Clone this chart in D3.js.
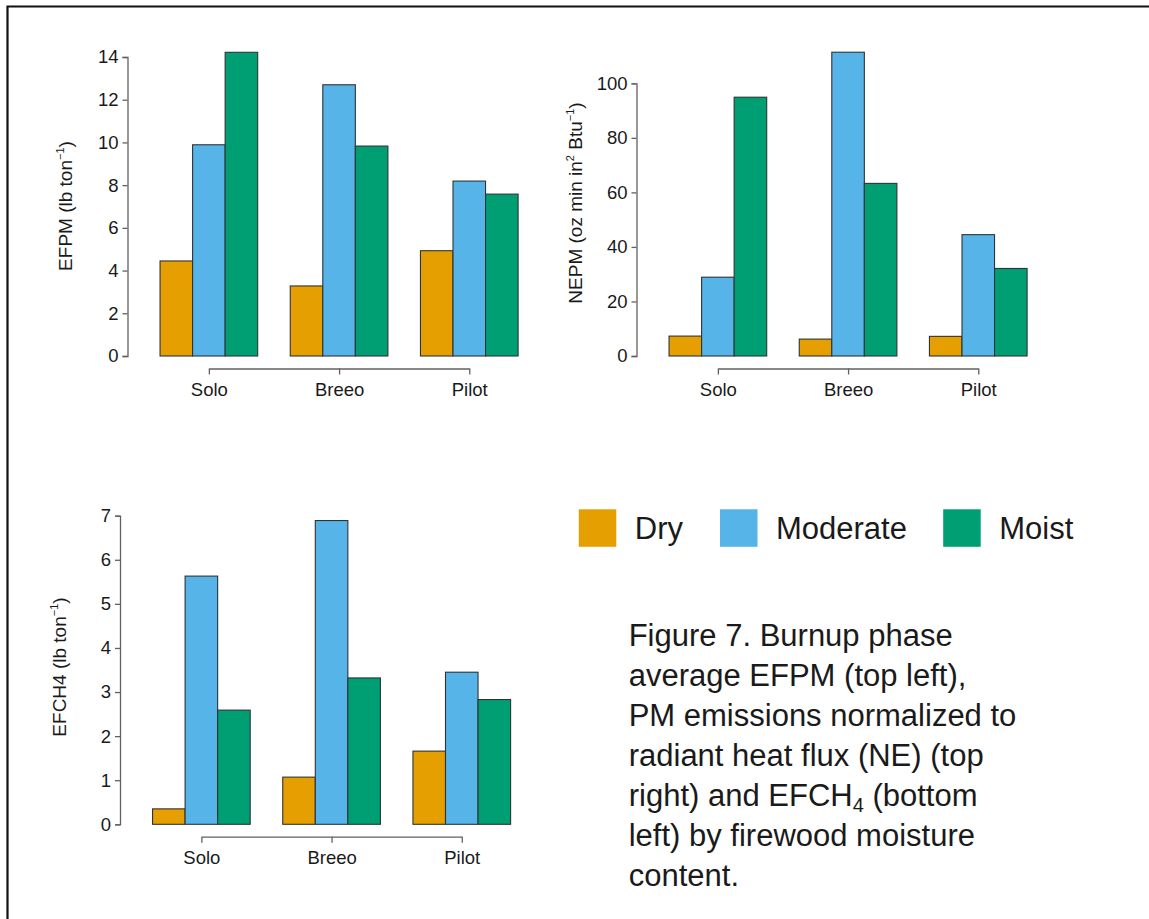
<!DOCTYPE html>
<html>
<head>
<meta charset="utf-8">
<script src="https://cdn.jsdelivr.net/npm/d3@7"></script>
<style>
  html, body { margin: 0; padding: 0; background: #fff; }
  svg { display: block; }
  text { font-family: "Liberation Sans", Arial, Helvetica, sans-serif; fill: #1a1a1a; }
</style>
</head>
<body>
<svg id="fig" width="1149" height="919"></svg>
<script>
// Stove models and firewood moisture classes
const stoves = ["Solo", "Breeo", "Pilot"];
const moisture = ["Dry", "Moderate", "Moist"];
const moistureColors = ["#E69F00", "#56B4E9", "#009E73"];

// Burnup-phase averages, one row per stove, columns Dry / Moderate / Moist
const efpm = [
  [4.45, 9.89, 14.22],
  [3.28, 12.70, 9.83],
  [4.93, 8.19, 7.58]
];
const nepm = [
  [7.3, 28.9, 94.9],
  [6.2, 111.4, 63.3],
  [7.2, 44.5, 32.1]
];
const efch4 = [
  [0.35, 5.63, 2.59],
  [1.07, 6.89, 3.32],
  [1.66, 3.45, 2.83]
];

// Y tick values for each panel
const efpmTicks = [0, 2, 4, 6, 8, 10, 12, 14];
const nepmTicks = [0, 20, 40, 60, 80, 100];
const efch4Ticks = [0, 1, 2, 3, 4, 5, 6, 7];

const captionLines = [
  [{t: "Figure 7. Burnup phase"}],
  [{t: "average EFPM (top left),"}],
  [{t: "PM emissions normalized to"}],
  [{t: "radiant heat flux (NE) (top"}],
  [{t: "right) and EFCH"}, {t: "4", sub: true}, {t: " (bottom"}],
  [{t: "left) by firewood moisture"}],
  [{t: "content."}]
];

const svg = d3.select("#fig");

// page frame (top and left edges visible)
svg.append("path")
  .attr("d", "M7.5,1000 V6.5 H1200")
  .attr("fill", "none").attr("stroke", "#111").attr("stroke-width", 2.2);

const axisColor = "#616161";
const slot = 32.55; // one bar width; groups of 3 bars separated by one empty slot
const font = '"Liberation Sans", Arial, sans-serif';

function panel(cfg) {
  const g = svg.append("g");
  // bar slots: axis at slot 0, group i occupies slots 1+4i .. 4+4i
  const x = d3.scaleLinear().domain([0, 12]).range([cfg.x0, cfg.x0 + 12 * slot]);
  const y = d3.scaleLinear().domain(cfg.yDomain).range(cfg.yRange);

  cfg.data.forEach((row, i) => {
    row.forEach((v, j) => {
      const s = 1 + 4 * i + j;
      g.append("rect")
        .attr("x", x(s))
        .attr("y", y(v))
        .attr("width", x(s + 1) - x(s))
        .attr("height", y(0) - y(v))
        .attr("fill", moistureColors[j])
        .attr("stroke", "#2e3436")
        .attr("stroke-width", 1.1);
    });
  });

  // y axis
  const ya = g.append("g")
    .attr("transform", `translate(${cfg.x0},0)`)
    .call(d3.axisLeft(y).tickValues(cfg.ticks).tickSize(5).tickSizeOuter(5).tickPadding(4).tickFormat(d3.format("d")));
  ya.selectAll("path,line").attr("stroke", axisColor).attr("stroke-width", 1.3);
  ya.selectAll("text").attr("font-size", 18.5).attr("fill", "#1a1a1a").style("font-family", font);

  // x axis: one tick per stove at group centres
  const xc = d3.scalePoint().domain(stoves).range([x(2.5), x(10.5)]);
  const xa = g.append("g")
    .attr("transform", `translate(0,${cfg.xAxisY})`)
    .call(d3.axisBottom(xc).tickSize(6).tickSizeOuter(0).tickPadding(8));
  xa.selectAll("path,line").attr("stroke", axisColor).attr("stroke-width", 1.3);
  xa.selectAll("text").attr("font-size", 18.5).attr("fill", "#1a1a1a").style("font-family", font);

  // rotated y-axis title with superscripts
  const t = g.append("text")
    .attr("transform", `translate(${cfg.labelX},${cfg.labelY}) rotate(-90)`)
    .attr("text-anchor", "middle")
    .attr("font-size", 19);
  cfg.label.forEach(p => {
    const ts = t.append("tspan").text(p.t);
    if (p.sup) ts.attr("font-size", 11).attr("dy", -8);
    else if (p.after) ts.attr("dy", 8);
  });
}

panel({
  data: efpm, ticks: efpmTicks, x0: 127.5,
  yDomain: [0, 14], yRange: [356, 57], xAxisY: 368.5,
  labelX: 72, labelY: 206,
  label: [{t: "EFPM (lb ton"}, {t: "\u22121", sup: true}, {t: ")", after: true}]
});

panel({
  data: nepm, ticks: nepmTicks, x0: 636.5,
  yDomain: [0, 100], yRange: [356, 83.3], xAxisY: 368.5,
  labelX: 582, labelY: 203,
  label: [{t: "NEPM (oz min in"}, {t: "2", sup: true}, {t: " Btu", after: true},
          {t: "\u22121", sup: true}, {t: ")", after: true}]
});

panel({
  data: efch4, ticks: efch4Ticks, x0: 120,
  yDomain: [0, 7], yRange: [824.3, 515.7], xAxisY: 836.7,
  labelX: 66, labelY: 667,
  label: [{t: "EFCH4 (lb ton"}, {t: "\u22121", sup: true}, {t: ")", after: true}]
});

// legend
const legX = [578.8, 720, 943.2];
const leg = svg.append("g");
moisture.forEach((m, i) => {
  leg.append("rect")
    .attr("x", legX[i]).attr("y", 509.3)
    .attr("width", 37.5).attr("height", 37.5)
    .attr("fill", moistureColors[i]);
  leg.append("text")
    .attr("x", legX[i] + 56).attr("y", 539)
    .attr("font-size", 31)
    .text(m);
});

// caption
const cap = svg.append("g");
captionLines.forEach((line, k) => {
  const t = cap.append("text")
    .attr("x", 628.7).attr("y", 645.5 + k * 40.05)
    .attr("font-size", 31);
  line.forEach((p, idx) => {
    const ts = t.append("tspan").text(p.t);
    if (p.sub) ts.attr("font-size", 20).attr("dy", 6);
    else if (idx > 0 && line[idx - 1].sub) ts.attr("dy", -6);
  });
});
</script>
</body>
</html>
